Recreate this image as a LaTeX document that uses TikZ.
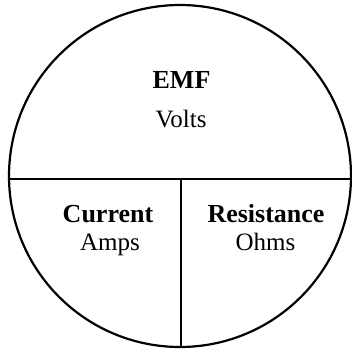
\documentclass[tikz,border=0pt]{standalone}
\usepackage{fontspec}
\setmainfont{Liberation Serif}
\begin{document}
\begin{tikzpicture}[x=1pt,y=-1pt,
  ring/.style={line width=2.2pt},
  divider/.style={line width=2pt},
  title/.style={anchor=base,inner sep=0pt,font=\fontsize{26}{30}\selectfont\bfseries},
  unit/.style={anchor=base,inner sep=0pt,font=\fontsize{25}{29}\selectfont}]
\useasboundingbox (0,0) rectangle (351,352);
\node[ring,draw,circle,minimum size=342pt,inner sep=0pt] (c) at (180,176) {};
\coordinate (hl) at (9,179);
\coordinate (hr) at (351,179);
\coordinate (vt) at (180.7,179);
\coordinate (vb) at (180.7,347);
\draw[divider] (hl) -- (hr);
\draw[divider] (vt) -- (vb);
\node[title] (emf) at (181.5,89) {EMF};
\node[unit] (volts) at (181,128) {Volts};
\node[title] (cur) at (108,222) {Current};
\node[unit] (amps) at (110,250) {Amps};
\node[title] (res) at (266,222) {Resistance};
\node[unit] (ohms) at (265.5,250) {Ohms};
\end{tikzpicture}
\end{document}
